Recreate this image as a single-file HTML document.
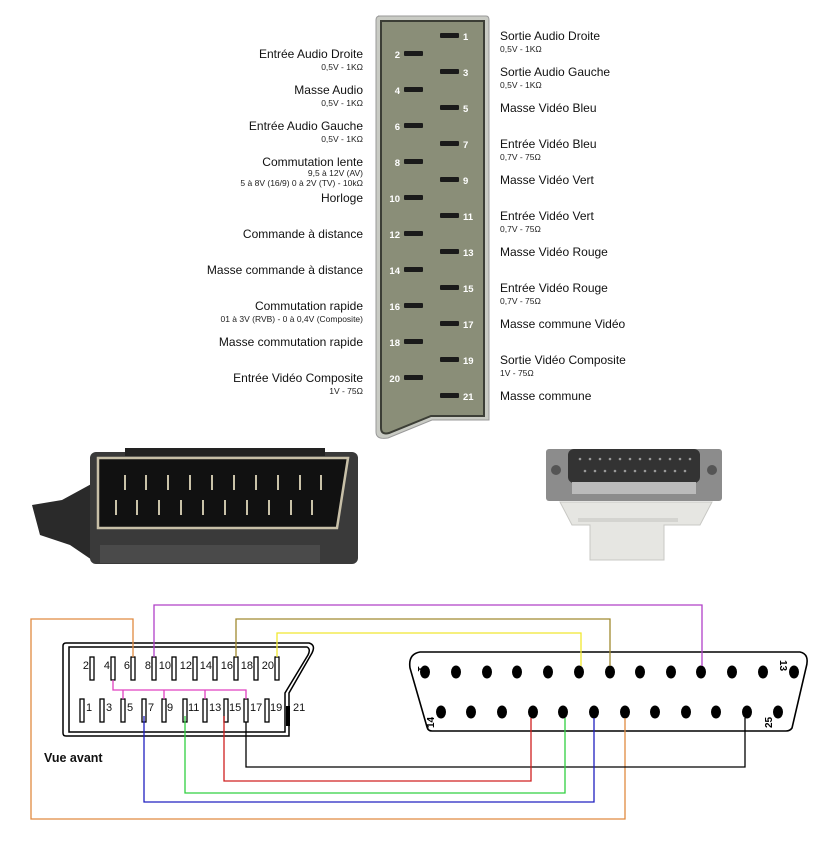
<!DOCTYPE html>
<html><head><meta charset="utf-8"><style>
body{margin:0;background:#fff;width:817px;height:841px;overflow:hidden}
svg{display:block;font-family:"Liberation Sans",Arial,sans-serif}
.t{font-size:12px;fill:#111}
.s{font-size:8.5px;fill:#222}
.n{font-size:9.5px;font-weight:bold;fill:#fff}
.b{font-size:11px;fill:#111}
</style></head><body>
<svg width="817" height="841" viewBox="0 0 817 841" xmlns="http://www.w3.org/2000/svg">
<path d="M378 16 H486 Q489 16 489 20 V420 H432 L388 438 Q376 440 376 432 V20 Q376 16 380 16Z" fill="#c9cbc4" stroke="#999" stroke-width="1"/>
<path d="M381 21 H484 V416 H431 L389 433 Q381 435 381 428Z" fill="#8a8e78" stroke="#3c3e36" stroke-width="2"/>
<g fill="#1a1a1a">
<rect x="440" y="33" width="19" height="5" rx="1"/><rect x="440" y="69" width="19" height="5" rx="1"/><rect x="440" y="105" width="19" height="5" rx="1"/><rect x="440" y="141" width="19" height="5" rx="1"/><rect x="440" y="177" width="19" height="5" rx="1"/><rect x="440" y="213" width="19" height="5" rx="1"/><rect x="440" y="249" width="19" height="5" rx="1"/><rect x="440" y="285" width="19" height="5" rx="1"/><rect x="440" y="321" width="19" height="5" rx="1"/><rect x="440" y="357" width="19" height="5" rx="1"/><rect x="440" y="393" width="19" height="5" rx="1"/>
<rect x="404" y="51" width="19" height="5" rx="1"/><rect x="404" y="87" width="19" height="5" rx="1"/><rect x="404" y="123" width="19" height="5" rx="1"/><rect x="404" y="159" width="19" height="5" rx="1"/><rect x="404" y="195" width="19" height="5" rx="1"/><rect x="404" y="231" width="19" height="5" rx="1"/><rect x="404" y="267" width="19" height="5" rx="1"/><rect x="404" y="303" width="19" height="5" rx="1"/><rect x="404" y="339" width="19" height="5" rx="1"/><rect x="404" y="375" width="19" height="5" rx="1"/>
</g>
<g class="n">
<text x="463" y="40">1</text><text x="463" y="76">3</text><text x="463" y="112">5</text><text x="463" y="148">7</text><text x="463" y="184">9</text><text x="463" y="220">11</text><text x="463" y="256">13</text><text x="463" y="292">15</text><text x="463" y="328">17</text><text x="463" y="364">19</text><text x="463" y="400">21</text>
</g>
<g class="n" text-anchor="end">
<text x="400" y="58">2</text><text x="400" y="94">4</text><text x="400" y="130">6</text><text x="400" y="166">8</text><text x="400" y="202">10</text><text x="400" y="238">12</text><text x="400" y="274">14</text><text x="400" y="310">16</text><text x="400" y="346">18</text><text x="400" y="382">20</text>
</g>
<g text-anchor="end">
<text class="t" x="363" y="58">Entrée Audio Droite</text><text class="s" x="363" y="70">0,5V - 1KΩ</text>
<text class="t" x="363" y="94">Masse Audio</text><text class="s" x="363" y="106">0,5V - 1KΩ</text>
<text class="t" x="363" y="130">Entrée Audio Gauche</text><text class="s" x="363" y="142">0,5V - 1KΩ</text>
<text class="t" x="363" y="166">Commutation lente</text><text class="s" x="363" y="176">9,5 à 12V (AV)</text><text class="s" x="363" y="186">5 à 8V (16/9) 0 à 2V (TV) - 10kΩ</text>
<text class="t" x="363" y="202">Horloge</text>
<text class="t" x="363" y="238">Commande à distance</text>
<text class="t" x="363" y="274">Masse commande à distance</text>
<text class="t" x="363" y="310">Commutation rapide</text><text class="s" x="363" y="322">01 à 3V (RVB) - 0 à 0,4V (Composite)</text>
<text class="t" x="363" y="346">Masse commutation rapide</text>
<text class="t" x="363" y="382">Entrée Vidéo Composite</text><text class="s" x="363" y="394">1V - 75Ω</text>
</g>
<g>
<text class="t" x="500" y="40">Sortie Audio Droite</text><text class="s" x="500" y="52">0,5V - 1KΩ</text>
<text class="t" x="500" y="76">Sortie Audio Gauche</text><text class="s" x="500" y="88">0,5V - 1KΩ</text>
<text class="t" x="500" y="112">Masse Vidéo Bleu</text>
<text class="t" x="500" y="148">Entrée Vidéo Bleu</text><text class="s" x="500" y="160">0,7V - 75Ω</text>
<text class="t" x="500" y="184">Masse Vidéo Vert</text>
<text class="t" x="500" y="220">Entrée Vidéo Vert</text><text class="s" x="500" y="232">0,7V - 75Ω</text>
<text class="t" x="500" y="256">Masse Vidéo Rouge</text>
<text class="t" x="500" y="292">Entrée Vidéo Rouge</text><text class="s" x="500" y="304">0,7V - 75Ω</text>
<text class="t" x="500" y="328">Masse commune Vidéo</text>
<text class="t" x="500" y="364">Sortie Vidéo Composite</text><text class="s" x="500" y="376">1V - 75Ω</text>
<text class="t" x="500" y="400">Masse commune</text>
</g>

<path d="M32 505 L62 500 L95 482 L95 562 L70 545 L40 535 Z" fill="#2a2a2a"/>
<rect x="90" y="452" width="268" height="112" rx="6" fill="#3a3a3a"/>
<rect x="125" y="448" width="200" height="8" fill="#222"/>
<rect x="100" y="545" width="220" height="18" fill="#4a4a4a"/>
<path d="M98 458 H348 L337 528 H98 Z" fill="#111" stroke="#c8c0a8" stroke-width="2.5"/>
<g stroke="#c9c2a8" stroke-width="2">
<line x1="125" y1="475" x2="125" y2="490"/><line x1="146" y1="475" x2="146" y2="490"/><line x1="168" y1="475" x2="168" y2="490"/><line x1="190" y1="475" x2="190" y2="490"/><line x1="212" y1="475" x2="212" y2="490"/><line x1="234" y1="475" x2="234" y2="490"/><line x1="256" y1="475" x2="256" y2="490"/><line x1="278" y1="475" x2="278" y2="490"/><line x1="300" y1="475" x2="300" y2="490"/><line x1="321" y1="475" x2="321" y2="490"/>
<line x1="116" y1="500" x2="116" y2="515"/><line x1="137" y1="500" x2="137" y2="515"/><line x1="159" y1="500" x2="159" y2="515"/><line x1="181" y1="500" x2="181" y2="515"/><line x1="203" y1="500" x2="203" y2="515"/><line x1="225" y1="500" x2="225" y2="515"/><line x1="247" y1="500" x2="247" y2="515"/><line x1="269" y1="500" x2="269" y2="515"/><line x1="291" y1="500" x2="291" y2="515"/><line x1="312" y1="500" x2="312" y2="515"/>
</g>

<rect x="546" y="449" width="176" height="52" rx="3" fill="#8c8c8c"/>
<rect x="568" y="449" width="132" height="34" rx="6" fill="#333"/>
<g fill="#999"><circle cx="580" cy="459" r="1.3"/><circle cx="590" cy="459" r="1.3"/><circle cx="600" cy="459" r="1.3"/><circle cx="610" cy="459" r="1.3"/><circle cx="620" cy="459" r="1.3"/><circle cx="630" cy="459" r="1.3"/><circle cx="640" cy="459" r="1.3"/><circle cx="650" cy="459" r="1.3"/><circle cx="660" cy="459" r="1.3"/><circle cx="670" cy="459" r="1.3"/><circle cx="680" cy="459" r="1.3"/><circle cx="690" cy="459" r="1.3"/>
<circle cx="585" cy="471" r="1.3"/><circle cx="595" cy="471" r="1.3"/><circle cx="605" cy="471" r="1.3"/><circle cx="615" cy="471" r="1.3"/><circle cx="625" cy="471" r="1.3"/><circle cx="635" cy="471" r="1.3"/><circle cx="645" cy="471" r="1.3"/><circle cx="655" cy="471" r="1.3"/><circle cx="665" cy="471" r="1.3"/><circle cx="675" cy="471" r="1.3"/><circle cx="685" cy="471" r="1.3"/></g>
<rect x="572" y="482" width="124" height="12" fill="#bbb"/>
<circle cx="556" cy="470" r="5" fill="#555"/><circle cx="712" cy="470" r="5" fill="#555"/>
<path d="M560 502 H712 L700 525 H664 V560 H590 V525 H572 Z" fill="#e6e6e2" stroke="#c8c8c4"/>
<rect x="578" y="518" width="100" height="4" fill="#d4d4d0"/>

<g fill="none" stroke="#000" stroke-width="1.5">
<path d="M66 643 H309 Q316 645 312 653 L289 693 V736 H66 Q63 736 63 733 V646 Q63 643 66 643Z"/>
<path d="M69 647 H307 Q311 649 308 655 L285 693 V732 H69 Z"/>
</g>
<g fill="#fff" stroke="#000" stroke-width="1.3">
<rect x="90" y="657" width="4" height="23"/><rect x="111" y="657" width="4" height="23"/><rect x="131" y="657" width="4" height="23"/><rect x="152" y="657" width="4" height="23"/><rect x="172" y="657" width="4" height="23"/><rect x="193" y="657" width="4" height="23"/><rect x="213" y="657" width="4" height="23"/><rect x="234" y="657" width="4" height="23"/><rect x="254" y="657" width="4" height="23"/><rect x="275" y="657" width="4" height="23"/>
<rect x="80" y="699" width="4" height="23"/><rect x="100" y="699" width="4" height="23"/><rect x="121" y="699" width="4" height="23"/><rect x="142" y="699" width="4" height="23"/><rect x="162" y="699" width="4" height="23"/><rect x="183" y="699" width="4" height="23"/><rect x="203" y="699" width="4" height="23"/><rect x="224" y="699" width="4" height="23"/><rect x="244" y="699" width="4" height="23"/><rect x="265" y="699" width="4" height="23"/>
</g>
<rect x="286" y="706" width="4" height="20" fill="#000"/>
<g class="b" text-anchor="end">
<text x="89" y="669">2</text><text x="110" y="669">4</text><text x="130" y="669">6</text><text x="151" y="669">8</text><text x="171" y="669">10</text><text x="192" y="669">12</text><text x="212" y="669">14</text><text x="233" y="669">16</text><text x="253" y="669">18</text><text x="274" y="669">20</text>
</g>
<g class="b">
<text x="86" y="711">1</text><text x="106" y="711">3</text><text x="127" y="711">5</text><text x="148" y="711">7</text><text x="167" y="711">9</text><text x="188" y="711">11</text><text x="209" y="711">13</text><text x="229" y="711">15</text><text x="250" y="711">17</text><text x="270" y="711">19</text><text x="293" y="711">21</text>
</g>
<text x="44" y="762" style="font-size:12.5px;font-weight:bold;fill:#111">Vue avant</text>

<path d="M420 652 H800 Q810 654 806 668 L792 728 Q790 731 786 731 H432 Q428 731 427 727 L410 668 Q408 654 420 652Z" fill="none" stroke="#000" stroke-width="1.6"/>
<g fill="#000">
<ellipse cx="425" cy="672" rx="5" ry="6.5"/><ellipse cx="456" cy="672" rx="5" ry="6.5"/><ellipse cx="487" cy="672" rx="5" ry="6.5"/><ellipse cx="517" cy="672" rx="5" ry="6.5"/><ellipse cx="548" cy="672" rx="5" ry="6.5"/><ellipse cx="579" cy="672" rx="5" ry="6.5"/><ellipse cx="610" cy="672" rx="5" ry="6.5"/><ellipse cx="640" cy="672" rx="5" ry="6.5"/><ellipse cx="671" cy="672" rx="5" ry="6.5"/><ellipse cx="701" cy="672" rx="5" ry="6.5"/><ellipse cx="732" cy="672" rx="5" ry="6.5"/><ellipse cx="763" cy="672" rx="5" ry="6.5"/><ellipse cx="794" cy="672" rx="5" ry="6.5"/>
<ellipse cx="441" cy="712" rx="5" ry="6.5"/><ellipse cx="471" cy="712" rx="5" ry="6.5"/><ellipse cx="502" cy="712" rx="5" ry="6.5"/><ellipse cx="533" cy="712" rx="5" ry="6.5"/><ellipse cx="563" cy="712" rx="5" ry="6.5"/><ellipse cx="594" cy="712" rx="5" ry="6.5"/><ellipse cx="625" cy="712" rx="5" ry="6.5"/><ellipse cx="655" cy="712" rx="5" ry="6.5"/><ellipse cx="686" cy="712" rx="5" ry="6.5"/><ellipse cx="716" cy="712" rx="5" ry="6.5"/><ellipse cx="747" cy="712" rx="5" ry="6.5"/><ellipse cx="778" cy="712" rx="5" ry="6.5"/>
</g>
<g style="font-size:10px;font-weight:bold;fill:#000">
<text transform="translate(418,666) rotate(90)">1</text>
<text transform="translate(780,660) rotate(90)">13</text>
<text transform="translate(434,728) rotate(-90)">14</text>
<text transform="translate(772,728) rotate(-90)">25</text>
</g>

<g fill="none" stroke-width="1.3">
<polyline points="277,657 277,633 581,633 581,666" stroke="#f0e830"/>
<polyline points="236,657 236,619 610,619 610,666" stroke="#a08a30"/>
<polyline points="154,657 154,605 702,605 702,666" stroke="#b040c8"/>
<polyline points="133,657 133,619 31,619 31,819 625,819 625,718" stroke="#e08a40"/>
<polyline points="113,680 113,690 246,690 246,699" stroke="#e040c0"/>
<line x1="123" y1="690" x2="123" y2="699" stroke="#e040c0"/>
<line x1="164" y1="690" x2="164" y2="699" stroke="#e040c0"/>
<line x1="205" y1="690" x2="205" y2="699" stroke="#e040c0"/>
<polyline points="246,722 246,767 745,767 745,718" stroke="#000"/>
<polyline points="224,716 224,781 531,781 531,718" stroke="#d02020"/>
<polyline points="185,716 185,793 565,793 565,718" stroke="#30d040"/>
<polyline points="144,716 144,802 594,802 594,718" stroke="#2020c0"/>
</g>
</svg>
</body></html>
